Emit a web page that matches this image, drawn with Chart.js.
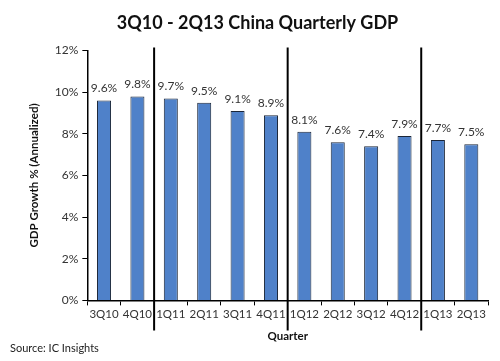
<!DOCTYPE html>
<html>
<head>
<meta charset="utf-8">
<script src="https://cdn.jsdelivr.net/npm/chart.js@4"></script>
<style>
  html, body { margin: 0; padding: 0; background: #fff; }
  #wrap { position: relative; width: 500px; height: 361px; }
  #source { position: absolute; left: 10px; top: 341px; font: 11px Lato, sans-serif; color: #222; }
</style>
</head>
<body>
<div id="wrap">
  <canvas id="gdp" width="500" height="361"></canvas>
  <div id="source">Source: IC Insights</div>
</div>
<script>
var quarters = ["3Q10", "4Q10", "1Q11", "2Q11", "3Q11", "4Q11", "1Q12", "2Q12", "3Q12", "4Q12", "1Q13", "2Q13"];
var growth = [9.6, 9.8, 9.7, 9.5, 9.1, 8.9, 8.1, 7.6, 7.4, 7.9, 7.7, 7.5];
var yearBreaks = [2, 6, 10]; // first quarter of each new year

// value labels above bars
var valueLabels = {
    id: "valueLabels",
    afterDatasetsDraw: function(chart) {
        var ctx = chart.ctx;
        var meta = chart.getDatasetMeta(0);
        ctx.save();
        ctx.font = "12px Lato, sans-serif";
        ctx.fillStyle = "#333";
        ctx.textAlign = "center";
        ctx.textBaseline = "bottom";
        meta.data.forEach(function(bar, i) {
            ctx.fillText(growth[i].toFixed(1) + "%", bar.x, bar.y - 6);
        });
        ctx.restore();
    }
};

// vertical year separators
var yearLines = {
    id: "yearLines",
    afterDraw: function(chart) {
        var ctx = chart.ctx;
        var x = chart.scales.x;
        ctx.save();
        ctx.strokeStyle = "#000";
        ctx.lineWidth = 2;
        yearBreaks.forEach(function(i) {
            var px = (x.getPixelForValue(i - 1) + x.getPixelForValue(i)) / 2;
            ctx.beginPath();
            ctx.moveTo(px, chart.chartArea.top - 3);
            ctx.lineTo(px, chart.chartArea.bottom + 30);
            ctx.stroke();
        });
        ctx.restore();
    }
};

new Chart(document.getElementById("gdp"), {
    type: "bar",
    data: {
        labels: quarters,
        datasets: [{
            data: growth,
            backgroundColor: "#4f81c9",
            borderColor: "#1b2638",
            borderWidth: 1,
            categoryPercentage: 1,
            barPercentage: 0.42
        }]
    },
    options: {
        responsive: false,
        animation: false,
        layout: { padding: { left: 27, right: 12, top: 12, bottom: 18 } },
        plugins: {
            legend: { display: false },
            tooltip: { enabled: false },
            title: {
                display: true,
                text: "3Q10 - 2Q13 China Quarterly GDP",
                font: { family: "Lato, sans-serif", size: 18, weight: "bold" },
                color: "#111",
                padding: { top: 0, bottom: 17 }
            }
        },
        scales: {
            x: {
                grid: { drawOnChartArea: false, tickLength: 5, color: "#000", offset: true },
                border: { color: "#000", width: 1.5 },
                ticks: { font: { family: "Lato, sans-serif", size: 11.5 }, color: "#333", maxRotation: 0, autoSkip: false, padding: 2 },
                title: {
                    display: true,
                    text: "Quarter",
                    font: { family: "Lato, sans-serif", size: 11.5, weight: "bold" },
                    color: "#111",
                    padding: { top: 6, bottom: 0 }
                }
            },
            y: {
                min: 0,
                max: 12,
                grid: { drawOnChartArea: false, tickLength: 5, color: "#000" },
                border: { color: "#000", width: 1.5 },
                ticks: {
                    stepSize: 2,
                    font: { family: "Lato, sans-serif", size: 12 },
                    color: "#333",
                    padding: 4,
                    callback: function(v) { return v + "%"; }
                },
                title: {
                    display: true,
                    text: "GDP Growth % (Annualized)",
                    font: { family: "Lato, sans-serif", size: 11.5, weight: "bold" },
                    color: "#111",
                    padding: { top: 0, bottom: 10 }
                }
            }
        }
    },
    plugins: [valueLabels, yearLines]
});
</script>
</body>
</html>
